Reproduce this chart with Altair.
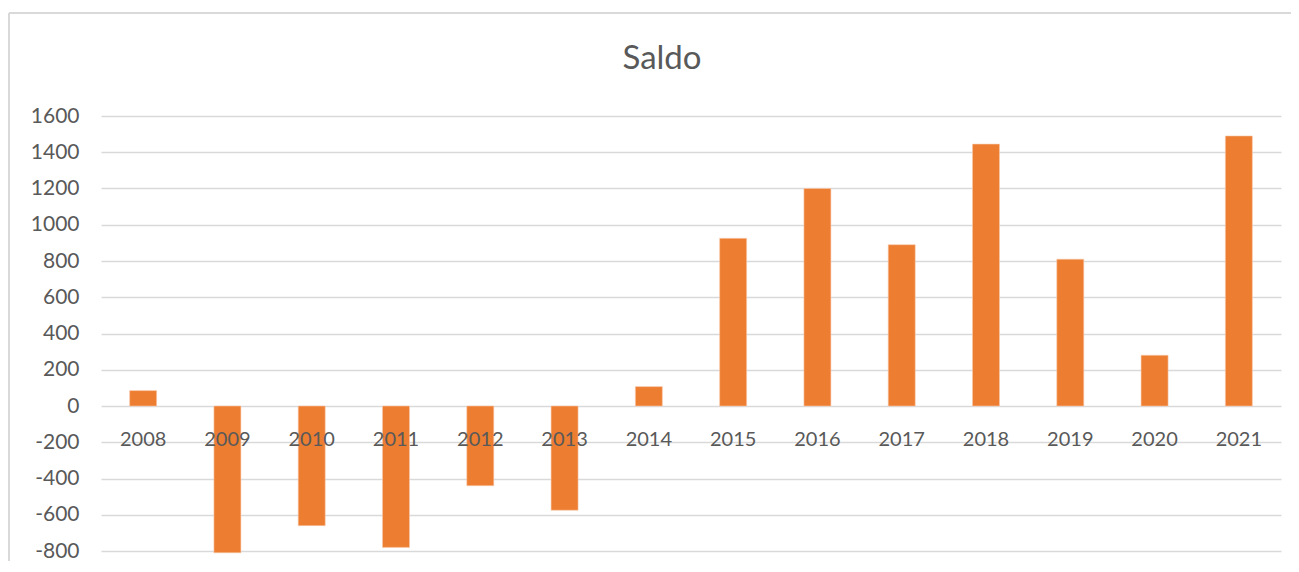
import altair as alt
import pandas as pd

years = ["2008", "2009", "2010", "2011", "2012", "2013", "2014",
         "2015", "2016", "2017", "2018", "2019", "2020", "2021"]
saldo = [85, -810, -660, -780, -440, -575, 107,
         925, 1200, 890, 1445, 810, 280, 1490]
y_ticks = [-800, -600, -400, -200, 0, 200, 400, 600, 800, 1000, 1200, 1400, 1600]

df = pd.DataFrame({"year": years, "saldo": saldo})

FONT = "Lato"
GREY = "#595959"
GRID = "#D9D9D9"

x_enc = alt.X("year:N", sort=years, axis=None,
              scale=alt.Scale(paddingInner=0.68, paddingOuter=0.34))
y_scale = alt.Scale(domain=[-800, 1600], nice=False)
y_axis = alt.Axis(values=y_ticks, grid=True, gridColor=GRID, gridWidth=1.5,
                  domain=False, ticks=False, labelColor=GREY, labelFont=FONT,
                  labelFontSize=21, labelPadding=22, labelOverlap=False,
                  labelExpr="datum.value + ''", title=None)

bars = alt.Chart(df).mark_bar(color="#ED7D31", size=27, stroke="#F8CBAD", strokeWidth=0.6).encode(
    x=x_enc,
    y=alt.Y("saldo:Q", scale=y_scale, title=None, axis=y_axis),
)

labels = alt.Chart(df).mark_text(font=FONT, fontSize=20, color=GREY, dy=34, baseline="middle").encode(
    x=alt.X("year:N", sort=years, axis=None),
    y=alt.YDatum(0, scale=y_scale, axis=y_axis),
    text="year:N",
)

frame_left = alt.Chart(df).mark_rule(color=GRID, strokeWidth=2, clip=False).encode(
    x=alt.value(-92), y=alt.value(-103), y2=alt.value(460)
)
frame_top = alt.Chart(df).mark_rule(color=GRID, strokeWidth=2, clip=False).encode(
    x=alt.value(-92), x2=alt.value(1220), y=alt.value(-103)
)

chart = alt.layer(frame_left, frame_top, bars, labels).properties(
    width=1180,
    height=435,
    title=alt.TitleParams("Saldo", font=FONT, fontSize=33, color=GREY, fontWeight="normal",
                          anchor="middle", offset=-64, dx=-29),
    padding={"left": 93, "top": 108, "right": 10, "bottom": 10},
    autosize=alt.AutoSizeParams(type="none"),
).configure(
    background="white",
    view=alt.ViewConfig(stroke="transparent", strokeWidth=0),
)

chart.save("out.html", embed_options={"renderer": "svg", "actions": False})
